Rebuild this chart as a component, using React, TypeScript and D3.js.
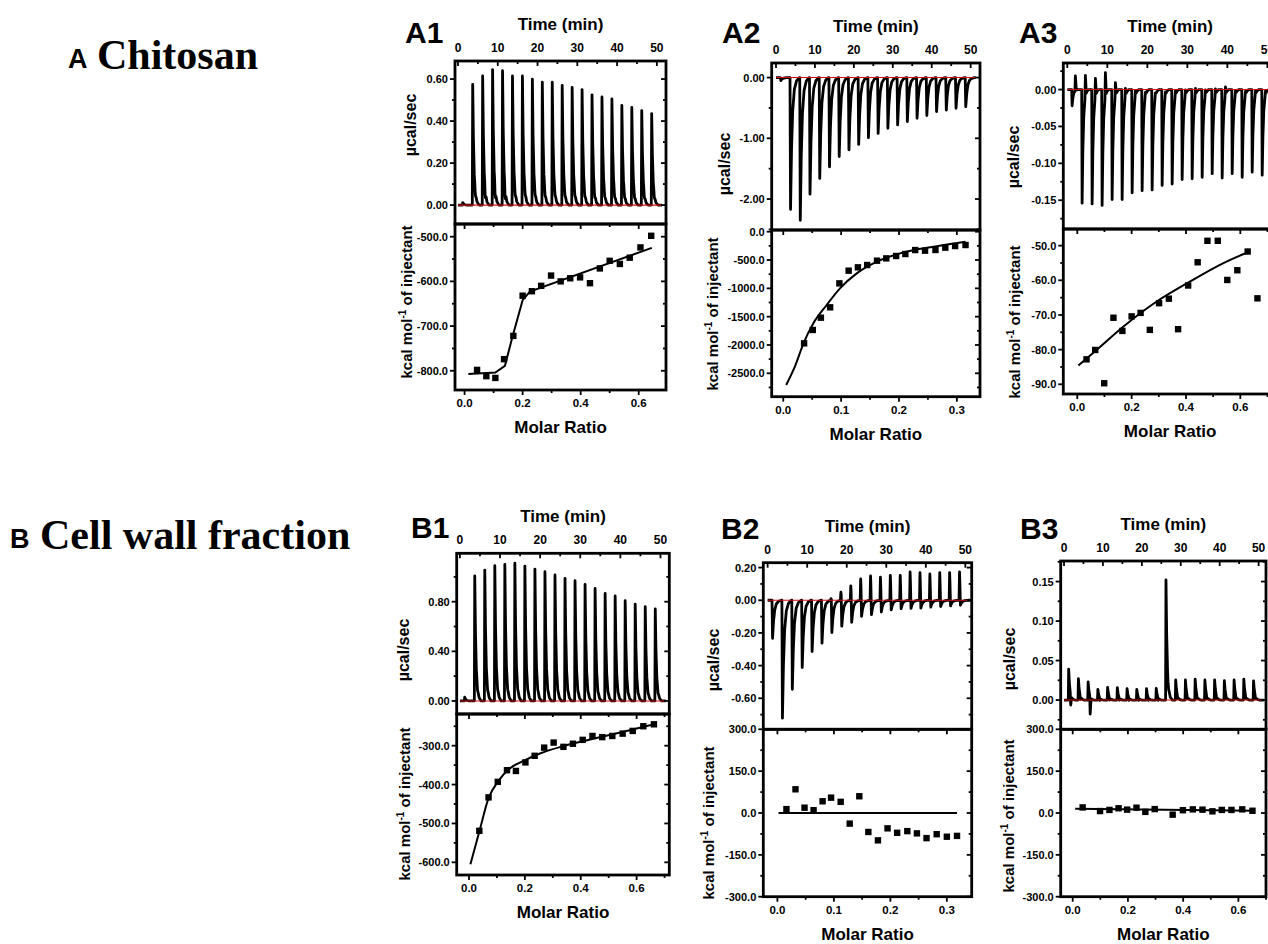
import React from 'react';
import * as d3 from 'd3';

// ---------- injection schedule (min) ----------
const INJ_TIMES = [1.1, 3.6, 6.1, 8.6, 11.1, 13.6, 16.1, 18.6, 21.1, 23.6, 26.1, 28.6, 31.1, 33.6, 36.1, 38.6, 41.1, 43.6, 46.1, 48.6];
const TIME_TICKS = [0, 10, 20, 30, 40, 50];

// peak shape template (relative time in min, relative amplitude)
const PEAK_SHAPE_T = [0, 0.1, 0.28, 0.5, 0.8, 1.2, 1.7];
const PEAK_SHAPE_V = [0, 1, 0.55, 0.25, 0.09, 0.025, 0];
const SEC_SHAPE_T = [0, 0.12, 0.35];
const SEC_SHAPE_V = [0, 1, 0];

// ---------- A1 ----------
const A1_PEAKS = [0.012, 0.575, 0.615, 0.645, 0.64, 0.615, 0.615, 0.6, 0.585, 0.585, 0.57, 0.56, 0.55, 0.525, 0.515, 0.505, 0.475, 0.465, 0.45, 0.435];
const A1_SEC = [0, -0.012, -0.03, -0.035, -0.04, -0.015, -0.01, -0.01, -0.012, -0.008, -0.01, -0.01, -0.012, -0.018, -0.01, -0.012, -0.01, -0.01, -0.012, -0.01];
const A1_RATIO = [0.043, 0.075, 0.106, 0.136, 0.168, 0.2, 0.232, 0.264, 0.298, 0.331, 0.364, 0.398, 0.432, 0.466, 0.5, 0.535, 0.569, 0.606, 0.643];
const A1_HEAT = [-798, -812, -816, -774, -722, -632, -622, -610, -587, -600, -593, -591, -604, -571, -554, -561, -547, -524, -498];
const A1_FIT_RATIO = [0.013, 0.106, 0.139, 0.162, 0.2, 0.225, 0.645];
const A1_FIT_HEAT = [-807, -804, -789, -731, -642, -623, -525];
const A1_UTICKS = [0, 0.2, 0.4, 0.6];
const A1_LTICKS = [-800, -700, -600, -500];
const A1_XTICKS = [0, 0.2, 0.4, 0.6];

// ---------- A2 ----------
const A2_PEAKS = [-0.05, -2.17, -2.35, -1.92, -1.66, -1.47, -1.3, -1.19, -1.1, -0.99, -0.92, -0.835, -0.78, -0.725, -0.67, -0.625, -0.56, -0.535, -0.505, -0.48];
const A2_SEC = [0, 0, 0, 0, 0, 0, 0, 0, 0, 0, 0, 0, 0, 0, 0, 0, 0, 0, 0, 0];
const A2_RATIO = [0.036, 0.051, 0.065, 0.081, 0.097, 0.113, 0.129, 0.145, 0.162, 0.178, 0.195, 0.211, 0.228, 0.245, 0.263, 0.28, 0.297, 0.315];
const A2_HEAT = [-1971, -1735, -1518, -1335, -912, -688, -629, -588, -512, -471, -429, -394, -324, -335, -323, -282, -253, -235];
const A2_FIT_RATIO = [0.005, 0.02, 0.035, 0.052, 0.075, 0.098, 0.127, 0.162, 0.202, 0.26, 0.315];
const A2_FIT_HEAT = [-2706, -2382, -1970, -1618, -1294, -1000, -735, -529, -382, -265, -176];
const A2_UTICKS = [0, -1, -2];
const A2_LTICKS = [0, -500, -1000, -1500, -2000, -2500];
const A2_XTICKS = [0, 0.1, 0.2, 0.3];

// ---------- A3 ----------
const A3_PEAKS = [-0.022, -0.154, -0.155, -0.157, -0.149, -0.149, -0.14, -0.137, -0.136, -0.13, -0.128, -0.122, -0.121, -0.119, -0.114, -0.12, -0.114, -0.119, -0.112, -0.116];
const A3_SEC = [0.02, 0.03, 0.026, 0.034, 0.02, 0.012, 0.008, 0.006, 0.005, 0.006, 0.007, 0.008, 0.01, 0.008, 0.009, 0.012, 0.007, 0.006, 0.006, 0.006];
const A3_RATIO = [0.034, 0.066, 0.099, 0.133, 0.166, 0.2, 0.233, 0.267, 0.301, 0.337, 0.371, 0.408, 0.443, 0.479, 0.517, 0.552, 0.589, 0.627, 0.663];
const A3_HEAT = [-82.8, -80.1, -89.7, -70.8, -74.6, -70.4, -69.4, -74.3, -66.6, -65.3, -74.1, -61.5, -54.8, -48.6, -48.6, -59.9, -57.1, -51.7, -65.2];
const A3_FIT_RATIO = [0.004, 0.071, 0.169, 0.291, 0.414, 0.536, 0.628];
const A3_FIT_HEAT = [-84.6, -80.1, -73.4, -66.2, -60.4, -55.1, -51.9];
const A3_UTICKS = [0, -0.05, -0.1, -0.15];
const A3_LTICKS = [-90, -80, -70, -60, -50];
const A3_XTICKS = [0, 0.2, 0.4, 0.6];

// ---------- B1 ----------
const B1_PEAKS = [0.03, 1.007, 1.055, 1.09, 1.1, 1.11, 1.087, 1.063, 1.042, 1.015, 0.988, 0.969, 0.94, 0.907, 0.867, 0.846, 0.808, 0.781, 0.76, 0.741];
const B1_SEC = [0, -0.008, -0.008, -0.006, -0.006, -0.005, -0.005, -0.005, -0.005, -0.005, -0.005, -0.005, -0.005, -0.005, -0.005, -0.005, -0.005, -0.005, -0.005, -0.005];
const B1_RATIO = [0.037, 0.07, 0.103, 0.136, 0.168, 0.202, 0.235, 0.269, 0.303, 0.338, 0.372, 0.407, 0.442, 0.477, 0.513, 0.55, 0.586, 0.624, 0.662];
const B1_HEAT = [-519, -433, -393, -363, -365, -343, -326, -305, -292, -303, -295, -285, -275, -278, -275, -269, -262, -250, -245];
const B1_FIT_RATIO = [0.005, 0.037, 0.07, 0.105, 0.147, 0.195, 0.254, 0.338, 0.433, 0.553, 0.662];
const B1_FIT_HEAT = [-605, -521, -435, -391, -358, -339, -320, -301, -284, -264, -245];
const B1_UTICKS = [0, 0.4, 0.8];
const B1_LTICKS = [-600, -500, -400, -300];
const B1_XTICKS = [0, 0.2, 0.4, 0.6];

// ---------- B2 ----------
const B2_PEAKS = [-0.233, -0.722, -0.545, -0.412, -0.314, -0.263, -0.198, -0.161, -0.137, -0.1, -0.09, -0.073, -0.06, -0.053, -0.051, -0.049, -0.043, -0.039, -0.035, -0.031];
const B2_SEC = [0, 0, 0, 0, 0, 0, 0.01, 0.049, 0.088, 0.131, 0.149, 0.141, 0.153, 0.153, 0.173, 0.169, 0.161, 0.169, 0.169, 0.173];
const B2_RATIO = [0.016, 0.032, 0.048, 0.064, 0.08, 0.095, 0.112, 0.128, 0.145, 0.161, 0.178, 0.195, 0.212, 0.23, 0.247, 0.264, 0.282, 0.3, 0.318];
const B2_HEAT = [14, 85, 19, 10, 42, 55, 40, -38, 60, -68, -98, -55, -71, -65, -73, -90, -76, -85, -82];
const B2_FIT_RATIO = [0.002, 0.318];
const B2_FIT_HEAT = [0, 0];
const B2_UTICKS = [0.2, 0, -0.2, -0.4, -0.6];
const B2_LTICKS = [300, 150, 0, -150, -300];
const B2_XTICKS = [0, 0.1, 0.2, 0.3];

// ---------- B3 ----------
const B3_PEAKS = [0.039, 0.027, 0.023, 0.0135, 0.016, 0.0156, 0.0144, 0.0135, 0.0144, 0.0148, 0.152, 0.0254, 0.0254, 0.0266, 0.0254, 0.0254, 0.0245, 0.0254, 0.0266, 0.0243];
const B3_SEC = [-0.0135, -0.004, -0.022, -0.003, -0.003, -0.003, -0.003, -0.003, -0.003, -0.003, -0.005, -0.003, -0.003, -0.003, -0.003, -0.003, -0.003, -0.003, -0.003, -0.003];
const B3_RATIO = [0.036, 0.099, 0.133, 0.166, 0.197, 0.231, 0.263, 0.297, 0.362, 0.399, 0.435, 0.47, 0.506, 0.54, 0.575, 0.614, 0.651];
const B3_HEAT = [20, 7, 11, 17, 12, 19, 4, 14, -6, 10, 13, 12, 6, 11, 11, 13, 8];
const B3_FIT_RATIO = [0.009, 0.655];
const B3_FIT_HEAT = [15.6, 8.4];
const B3_UTICKS = [0, 0.05, 0.1, 0.15];
const B3_LTICKS = [300, 150, 0, -150, -300];
const B3_XTICKS = [0, 0.2, 0.4, 0.6];

const FONT = "'Liberation Sans', Arial, Helvetica, sans-serif";
const SERIF = "'Liberation Serif', 'Times New Roman', serif";

type Spec = {
  id: string;
  box: { left: number; right: number; top: number; mid: number; bottom: number };
  tDomain: [number, number];
  uDomain: [number, number]; uTicks: number[]; uMinor: number;
  lDomain: [number, number]; lTicks: number[]; lMinor: number;
  xDomain: [number, number]; xTicks: number[]; xMinor: number;
  peaks: number[]; sec: number[]; width: number; secOffset: number;
  ratio: number[]; heat: number[]; fitRatio: number[]; fitHeat: number[]; smooth: boolean;
  label: { x: number; y: number };
  ucal: { dx: number; y: number };
  kcal: { dx: number; y: number };
};

function buildTrace(peaks: number[], sec: number[], width: number, secOffset: number, tEnd: number): [number, number][] {
  type Ev = { t0: number; amp: number; ts: number[]; vs: number[] };
  const evs: Ev[] = [];
  peaks.forEach((a, i) => {
    evs.push({ t0: INJ_TIMES[i], amp: a, ts: PEAK_SHAPE_T.map((t) => t * width), vs: PEAK_SHAPE_V });
    if (sec[i]) evs.push({ t0: INJ_TIMES[i] + secOffset, amp: sec[i], ts: SEC_SHAPE_T, vs: SEC_SHAPE_V });
  });
  const set = new Set<number>([0, tEnd]);
  evs.forEach((e) => e.ts.forEach((t) => set.add(+(e.t0 + t).toFixed(4))));
  const times = Array.from(set).filter((t) => t >= 0 && t <= tEnd).sort((a, b) => a - b);
  const interp = (e: Ev, t: number) => {
    const dt = t - e.t0;
    if (dt <= e.ts[0] || dt >= e.ts[e.ts.length - 1]) return 0;
    for (let k = 1; k < e.ts.length; k++) {
      if (dt <= e.ts[k]) {
        const f = (dt - e.ts[k - 1]) / (e.ts[k] - e.ts[k - 1]);
        return e.amp * (e.vs[k - 1] + f * (e.vs[k] - e.vs[k - 1]));
      }
    }
    return 0;
  };
  return times.map((t) => [t, evs.reduce((s, e) => s + interp(e, t), 0)] as [number, number]);
}

function minorVals(domain: [number, number], step: number): number[] {
  const lo = Math.min(domain[0], domain[1]);
  const hi = Math.max(domain[0], domain[1]);
  const out: number[] = [];
  for (let v = Math.ceil(lo / step - 1e-9) * step; v <= hi + 1e-9; v += step) out.push(+v.toFixed(6));
  return out;
}

const f2 = (v: number) => (Math.abs(v) < 1e-9 ? 0 : v).toFixed(2);
const f1 = (v: number) => (Math.abs(v) < 1e-9 ? 0 : v).toFixed(1);

function Panel({ s }: { s: Spec }) {
  const { left, right, top, mid, bottom } = s.box;
  const tx = d3.scaleLinear().domain(s.tDomain).range([left, right]);
  const uy = d3.scaleLinear().domain(s.uDomain).range([mid, top]);
  const mx = d3.scaleLinear().domain(s.xDomain).range([left, right]);
  const ly = d3.scaleLinear().domain(s.lDomain).range([bottom, mid]);

  const trace = buildTrace(s.peaks, s.sec, s.width, s.secOffset, 51.3);
  const traceLine = d3.line<[number, number]>().x((d) => tx(d[0])).y((d) => uy(d[1]));
  const fitLine = d3
    .line<number>()
    .x((_, i) => mx(s.fitRatio[i]))
    .y((d) => ly(d))
    .curve(s.smooth ? d3.curveMonotoneX : d3.curveLinear);

  const M = 5, m = 3;
  const tMinor = minorVals(s.tDomain, 5);
  const uMinor = minorVals(s.uDomain, s.uMinor);
  const lMinor = minorVals(s.lDomain, s.lMinor);
  const xMinor = minorVals(s.xDomain, s.xMinor);
  const isMaj = (arr: number[], v: number) => arr.some((a) => Math.abs(a - v) < 1e-6);
  const tl = { stroke: '#000', strokeWidth: 1.8 };
  const cu = `clipU_${s.id}`;
  const cl = `clipL_${s.id}`;
  const cx = (left + right) / 2;

  return (
    <g>
      <defs>
        <clipPath id={cu}><rect x={left} y={top} width={right - left} height={mid - top} /></clipPath>
        <clipPath id={cl}><rect x={left} y={mid} width={right - left} height={bottom - mid} /></clipPath>
      </defs>

      {/* upper thermogram */}
      <g clipPath={`url(#${cu})`}>
        <path d={traceLine(trace) || ''} fill="none" stroke="#000" strokeWidth={2.8} strokeLinejoin="round" />
        <line x1={tx(0)} x2={tx(51.3)} y1={uy(0)} y2={uy(0)} stroke="#d01010" strokeWidth={1.1} />
      </g>

      {/* lower isotherm */}
      <g clipPath={`url(#${cl})`}>
        <path d={fitLine(s.fitHeat) || ''} fill="none" stroke="#000" strokeWidth={2} />
        {s.ratio.map((r, i) => (
          <rect key={i} x={mx(r) - 3.2} y={ly(s.heat[i]) - 3.2} width={6.4} height={6.4} fill="#000" />
        ))}
      </g>

      {/* ticks: time on top of upper box (inward) */}
      {tMinor.map((v) => {
        const L = isMaj(TIME_TICKS, v) ? M : m;
        return <line key={'t' + v} x1={tx(v)} x2={tx(v)} y1={top} y2={top + L} {...tl} />;
      })}
      {/* upper y ticks left outward, right inward */}
      {uMinor.map((v) => {
        const L = isMaj(s.uTicks, v) ? M : m;
        return (
          <g key={'u' + v}>
            <line x1={left - L} x2={left} y1={uy(v)} y2={uy(v)} {...tl} />
            <line x1={right - L} x2={right} y1={uy(v)} y2={uy(v)} {...tl} />
          </g>
        );
      })}
      {/* lower y ticks */}
      {lMinor.map((v) => {
        const L = isMaj(s.lTicks, v) ? M : m;
        return (
          <g key={'l' + v}>
            <line x1={left - L} x2={left} y1={ly(v)} y2={ly(v)} {...tl} />
            <line x1={right - L} x2={right} y1={ly(v)} y2={ly(v)} {...tl} />
          </g>
        );
      })}
      {/* molar ratio ticks: bottom outward, top of lower inward */}
      {xMinor.map((v) => {
        const L = isMaj(s.xTicks, v) ? M : m;
        return (
          <g key={'x' + v}>
            <line x1={mx(v)} x2={mx(v)} y1={bottom} y2={bottom + L} {...tl} />
            <line x1={mx(v)} x2={mx(v)} y1={mid} y2={mid + L} {...tl} />
          </g>
        );
      })}

      {/* boxes */}
      <rect x={left} y={top} width={right - left} height={mid - top} fill="none" stroke="#000" strokeWidth={2.8} />
      <rect x={left} y={mid} width={right - left} height={bottom - mid} fill="none" stroke="#000" strokeWidth={2.8} />

      {/* tick labels */}
      <g fontFamily={FONT} fontWeight="bold" fill="#000">
        {TIME_TICKS.map((v) => (
          <text key={'tt' + v} x={tx(v)} y={top - 9} fontSize={12} textAnchor="middle">{v}</text>
        ))}
        {s.uTicks.map((v) => (
          <text key={'ut' + v} x={left - 7} y={uy(v) + 4} fontSize={11} textAnchor="end">{f2(v)}</text>
        ))}
        {s.lTicks.map((v) => (
          <text key={'lt' + v} x={left - 7} y={ly(v) + 4} fontSize={11} textAnchor="end">{f1(v)}</text>
        ))}
        {s.xTicks.map((v) => (
          <text key={'xt' + v} x={mx(v)} y={bottom + 17} fontSize={11.5} textAnchor="middle">{f1(v)}</text>
        ))}

        <text x={cx} y={top - 31} fontSize={17} textAnchor="middle">Time (min)</text>
        <text x={cx} y={bottom + 43} fontSize={17} textAnchor="middle">Molar Ratio</text>
        <text x={s.label.x} y={s.label.y} fontSize={30}>{s.id}</text>
        <text transform={`translate(${left - s.ucal.dx},${s.ucal.y}) rotate(-90)`} fontSize={16} textAnchor="middle">µcal/sec</text>
        <text transform={`translate(${left - s.kcal.dx},${s.kcal.y}) rotate(-90)`} fontSize={15} textAnchor="middle">
          kcal mol<tspan dy={-6} fontSize={10}>-1</tspan><tspan dy={6}> of injectant</tspan>
        </text>
      </g>
    </g>
  );
}

const SPECS: Spec[] = [
  {
    id: 'A1', box: { left: 455, right: 666, top: 61, mid: 224, bottom: 390 },
    tDomain: [-0.75, 52.3], uDomain: [-0.09, 0.686], uTicks: A1_UTICKS, uMinor: 0.1,
    lDomain: [-843, -471.6], lTicks: A1_LTICKS, lMinor: 50,
    xDomain: [-0.033, 0.694], xTicks: A1_XTICKS, xMinor: 0.1,
    peaks: A1_PEAKS, sec: A1_SEC, width: 1, secOffset: 0.6,
    ratio: A1_RATIO, heat: A1_HEAT, fitRatio: A1_FIT_RATIO, fitHeat: A1_FIT_HEAT, smooth: false,
    label: { x: 405, y: 43 }, ucal: { dx: 39, y: 125 }, kcal: { dx: 43, y: 302 },
  },
  {
    id: 'A2', box: { left: 771.7, right: 980, top: 63, mid: 230, bottom: 396.7 },
    tDomain: [-1.1, 52.4], uDomain: [-2.51, 0.24], uTicks: A2_UTICKS, uMinor: 0.5,
    lDomain: [-2913, 30], lTicks: A2_LTICKS, lMinor: 250,
    xDomain: [-0.02, 0.34], xTicks: A2_XTICKS, xMinor: 0.05,
    peaks: A2_PEAKS, sec: A2_SEC, width: 1.4, secOffset: 0,
    ratio: A2_RATIO, heat: A2_HEAT, fitRatio: A2_FIT_RATIO, fitHeat: A2_FIT_HEAT, smooth: true,
    label: { x: 722, y: 43 }, ucal: { dx: 42, y: 164 }, kcal: { dx: 54, y: 314 },
  },
  {
    id: 'A3', box: { left: 1063.3, right: 1277, top: 63, mid: 229, bottom: 394 },
    tDomain: [-1.0, 52.4], uDomain: [-0.189, 0.036], uTicks: A3_UTICKS, uMinor: 0.025,
    lDomain: [-92.8, -45.2], lTicks: A3_LTICKS, lMinor: 5,
    xDomain: [-0.0515, 0.735], xTicks: A3_XTICKS, xMinor: 0.1,
    peaks: A3_PEAKS, sec: A3_SEC, width: 1, secOffset: 0.8,
    ratio: A3_RATIO, heat: A3_HEAT, fitRatio: A3_FIT_RATIO, fitHeat: A3_FIT_HEAT, smooth: true,
    label: { x: 1019, y: 43 }, ucal: { dx: 44, y: 157 }, kcal: { dx: 43, y: 322 },
  },
  {
    id: 'B1', box: { left: 456.7, right: 669.3, top: 553.3, mid: 714, bottom: 875 },
    tDomain: [-0.8, 52.2], uDomain: [-0.105, 1.19], uTicks: B1_UTICKS, uMinor: 0.2,
    lDomain: [-632.6, -218.5], lTicks: B1_LTICKS, lMinor: 50,
    xDomain: [-0.044, 0.717], xTicks: B1_XTICKS, xMinor: 0.1,
    peaks: B1_PEAKS, sec: B1_SEC, width: 1, secOffset: 0.6,
    ratio: B1_RATIO, heat: B1_HEAT, fitRatio: B1_FIT_RATIO, fitHeat: B1_FIT_HEAT, smooth: true,
    label: { x: 411, y: 538 }, ucal: { dx: 48, y: 650 }, kcal: { dx: 47, y: 804 },
  },
  {
    id: 'B2', box: { left: 763.3, right: 971.7, top: 562.7, mid: 729.3, bottom: 896.7 },
    tDomain: [-1.1, 51.6], uDomain: [-0.79, 0.23], uTicks: B2_UTICKS, uMinor: 0.1,
    lDomain: [-300, 300], lTicks: B2_LTICKS, lMinor: 75,
    xDomain: [-0.025, 0.344], xTicks: B2_XTICKS, xMinor: 0.05,
    peaks: B2_PEAKS, sec: B2_SEC, width: 1.4, secOffset: -0.2,
    ratio: B2_RATIO, heat: B2_HEAT, fitRatio: B2_FIT_RATIO, fitHeat: B2_FIT_HEAT, smooth: false,
    label: { x: 721, y: 539 }, ucal: { dx: 44, y: 660 }, kcal: { dx: 49, y: 823 },
  },
  {
    id: 'B3', box: { left: 1060.7, right: 1266, top: 561, mid: 729.3, bottom: 896.7 },
    tDomain: [-0.85, 51.9], uDomain: [-0.037, 0.176], uTicks: B3_UTICKS, uMinor: 0.025,
    lDomain: [-300, 300], lTicks: B3_LTICKS, lMinor: 75,
    xDomain: [-0.0435, 0.7], xTicks: B3_XTICKS, xMinor: 0.1,
    peaks: B3_PEAKS, sec: B3_SEC, width: 1, secOffset: 0.5,
    ratio: B3_RATIO, heat: B3_HEAT, fitRatio: B3_FIT_RATIO, fitHeat: B3_FIT_HEAT, smooth: false,
    label: { x: 1020, y: 539 }, ucal: { dx: 46, y: 659 }, kcal: { dx: 47, y: 816 },
  },
];

export default function App() {
  return (
    <svg
      width={1268}
      height={944}
      viewBox="0 0 1268 944"
      style={{ position: 'absolute', left: 0, top: 0, background: '#fff' }}
    >
      <rect x={0} y={0} width={1268} height={944} fill="#fff" />
      <text x={68} y={68} fontFamily={FONT} fontWeight="bold" fontSize={27}>A</text>
      <text x={97} y={69} fontFamily={SERIF} fontWeight="bold" fontSize={42}>Chitosan</text>
      <text x={10} y={548} fontFamily={FONT} fontWeight="bold" fontSize={27}>B</text>
      <text x={40} y={549} fontFamily={SERIF} fontWeight="bold" fontSize={42}>Cell wall fraction</text>
      {SPECS.map((s) => (
        <Panel key={s.id} s={s} />
      ))}
    </svg>
  );
}
